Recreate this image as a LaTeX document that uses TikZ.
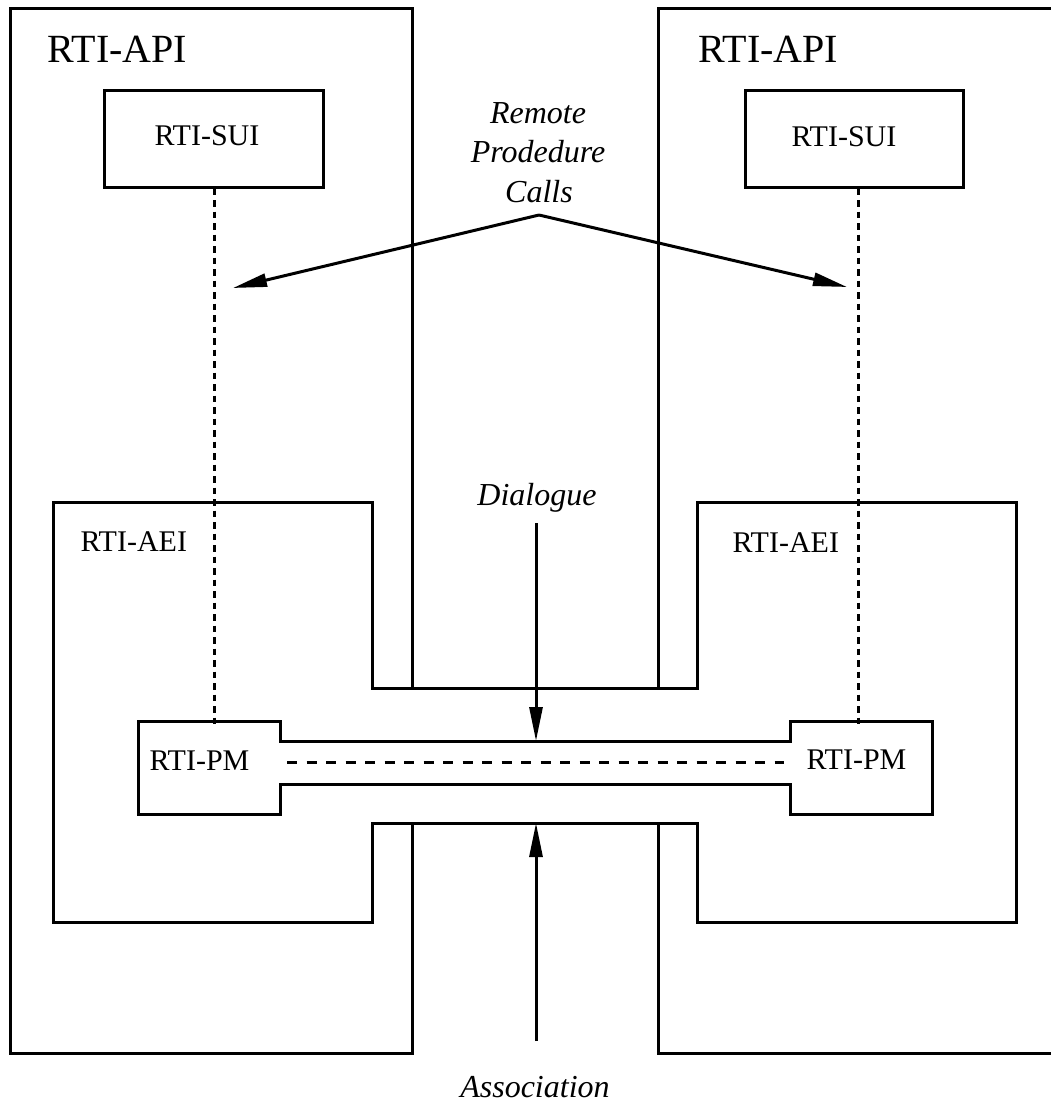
\documentclass[tikz,border=0pt]{standalone}
\usepackage{fontspec}
\setmainfont{Liberation Serif}
\usetikzlibrary{arrows.meta}
\begin{document}
\begin{tikzpicture}[x=1bp,y=-1bp, line width=3bp, line join=miter,
  lbl/.style={font=\fontsize{30bp}{36bp}\selectfont, inner sep=0pt, anchor=base west},
  big/.style={font=\fontsize{40bp}{48bp}\selectfont, inner sep=0pt, anchor=base west},
  itl/.style={font=\fontsize{32bp}{38bp}\selectfont\itshape, inner sep=0pt, anchor=base},
  dotln/.style={dash pattern=on 6.5bp off 5bp},
  dashln/.style={dash pattern=on 10bp off 9.5bp},
  arr/.style={-{Triangle[length=34bp,width=13bp]}},
  suibox/.style={draw, minimum width=218bp, minimum height=97bp, inner sep=0pt}]
\useasboundingbox (0,0) rectangle (1051,1104);
\clip (0,0) rectangle (1051,1104);

% RTI-API outer frames
\draw (412,688) -- (412,8) -- (10,8) -- (10,1053) -- (412,1053) -- (412,823);
\draw (658,688) -- (658,8) -- (1070,8);
\draw (658,823) -- (658,1053) -- (1070,1053);
\node[big] (apiL) at (46,62) {RTI-API};
\node[big] (apiR) at (697,62) {RTI-API};

% RTI-AEI combined shape
\draw (53,502) -- (372,502) -- (372,688) -- (697,688) -- (697,502) -- (1016,502)
  -- (1016,922) -- (697,922) -- (697,823) -- (372,823) -- (372,922) -- (53,922) -- cycle;
\node[lbl] (aeiL) at (79,551) {RTI-AEI};
\node[lbl] (aeiR) at (731,552) {RTI-AEI};

% RTI-PM with pipe
\draw (138,721) -- (280,721) -- (280,741) -- (790,741) -- (790,721) -- (932,721)
  -- (932,814) -- (790,814) -- (790,784) -- (280,784) -- (280,814) -- (138,814) -- cycle;
\node[lbl] (pmL) at (148,770) {RTI-PM};
\node[lbl] (pmR) at (805,769) {RTI-PM};
\coordinate (pipeL) at (287,762);
\coordinate (pipeR) at (784,762);
\draw[dashln] (pipeL) -- (pipeR);

% RTI-SUI boxes
\node[suibox] (suiL) at (214,138.5) {};
\node[suibox] (suiR) at (854.5,138.5) {};
\node[lbl] (suiLt) at (153,145) {RTI-SUI};
\node[lbl] (suiRt) at (790,146) {RTI-SUI};
\coordinate (pmLtop) at (214,728);
\coordinate (pmRtop) at (858,728);
\draw[dotln] (suiL.south) -- (pmLtop);
\draw[dotln] (suiR.south -| pmRtop) -- (pmRtop);

% Remote procedure calls
\node[itl] (rpc1) at (538,123) {Remote};
\node[itl] (rpc2) at (538,162) {Prodedure};
\node[itl] (rpc3) at (539,202) {Calls};
\coordinate (apex) at (539,215);
\coordinate (tipL) at (233,288);
\coordinate (tipR) at (847,287);
\draw[arr] (apex) -- (tipL);
\draw[arr] (apex) -- (tipR);

% Dialogue
\node[itl] (dlg) at (537,505) {Dialogue};
\coordinate (dlgS) at (536,523);
\coordinate (pipeT) at (536,741);
\draw[arr] (dlgS) -- (pipeT);

% Association
\node[itl] (assoc) at (535,1097) {Association};
\coordinate (assocN) at (536,1041);
\coordinate (aeiB) at (536,823);
\draw[arr] (assocN) -- (aeiB);
\end{tikzpicture}
\end{document}
